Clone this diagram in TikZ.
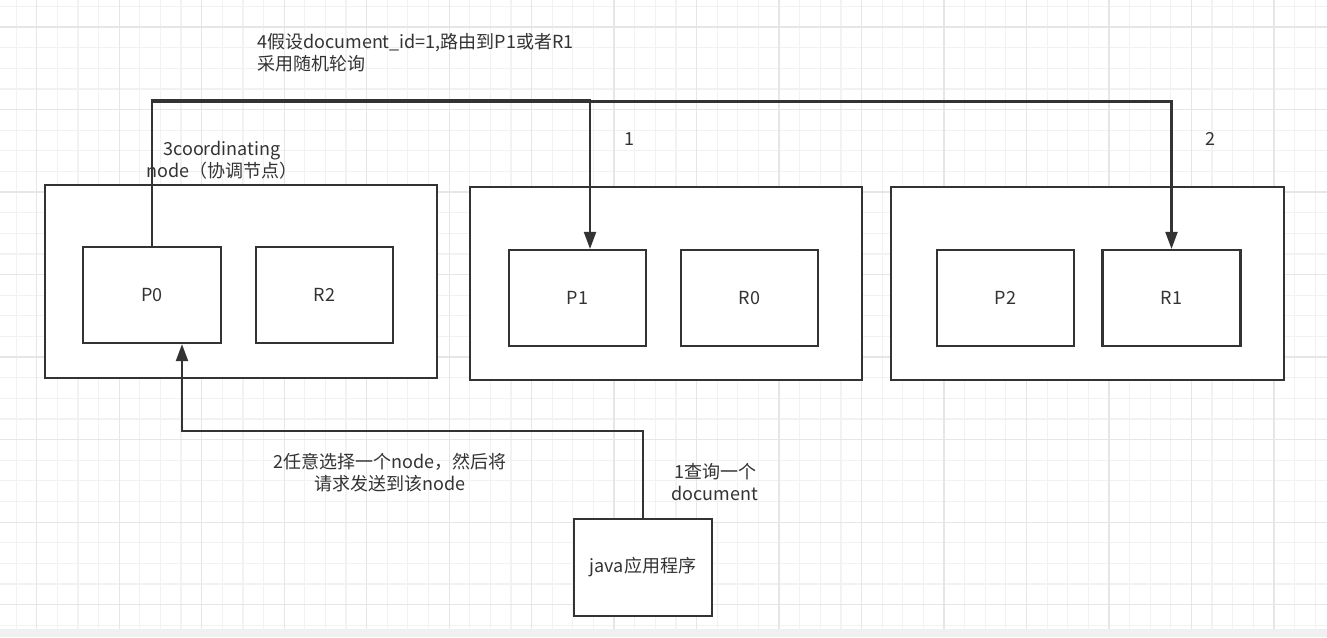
\documentclass[tikz,border=0pt]{standalone}
\usepackage{fontspec}
\setmainfont{Noto Sans CJK SC}
\usetikzlibrary{arrows.meta}
\definecolor{lc}{HTML}{333333}
\definecolor{gminor}{HTML}{F2F2F2}
\definecolor{gmajor}{HTML}{E6E6E6}
\definecolor{band}{HTML}{F0F0F0}
\begin{document}
\begin{tikzpicture}[x=1pt,y=-1pt,
  font=\fontsize{18}{22}\selectfont,
  every node/.style={text=lc},
  outer/.style={draw=lc, line width=2.2pt, fill=white, inner sep=0pt, minimum width=392pt, minimum height=193pt},
  shard/.style={draw=lc, line width=2.2pt, fill=white, inner sep=0pt, minimum width=138pt, minimum height=96pt},
  conn/.style={draw=lc, line width=2.2pt},
  arr/.style={conn, -{Triangle[length=17pt,width=12pt]}},
  lbl/.style={inner sep=0pt, align=center}]
\useasboundingbox (0,0) rectangle (1327,637);
\fill[white] (0,0) rectangle (1327,637);
% grid
\foreach \i [evaluate=\i as \x using 16.1+20.62*\i] in {0,...,64}
  \draw[gminor, line width=1.2pt] (\x,0) -- (\x,629);
\foreach \i [evaluate=\i as \y using 6.4+20.63*\i] in {0,...,30}
  \draw[gminor, line width=1.2pt] (0,\y) -- (1327,\y);
\foreach \i [evaluate=\i as \x using 36.72+82.48*\i] in {0,...,15}
  \draw[gmajor, line width=1.2pt] (\x,0) -- (\x,629);
\foreach \i [evaluate=\i as \y using 27+82.52*\i] in {0,...,7}
  \draw[gmajor, line width=1.2pt] (0,\y) -- (1327,\y);
\fill[band] (0,629) rectangle (1327,637);

% outer nodes
\node[outer] (A) at (241,281.5) {};
\node[outer] (B) at (666,283.5) {};
\node[outer, minimum width=393pt] (C) at (1087.5,283.5) {};

% shards
\node[shard] (P0) at (152,295) {P0};
\node[shard, minimum width=137pt] (R2) at (324.5,295) {R2};
\node[shard, minimum width=137pt] (P1) at (577.5,298) {P1};
\node[shard, minimum width=137pt] (R0) at (749.5,298) {R0};
\node[shard, minimum width=137pt] (P2) at (1005.5,298) {P2};
\node[shard] (R1) at (1171.5,298) {R1};

\node[shard, minimum height=97pt] (java) at (643,567.5) {java应用程序};

% labels
\node[lbl, align=left, anchor=north west] (l4) at (257,33) {4假设document\_id=1,路由到P1或者R1\\采用随机轮询};
\node[lbl] (l3) at (222,160.5) {3coordinating\\node（协调节点）};
\node[lbl] (l1) at (629,139) {1};
\node[lbl] (l2) at (1210,139) {2};
\node[lbl] (l2b) at (390,473) {2任意选择一个node，然后将\\请求发送到该node};
\node[lbl] (l1b) at (715,482.5) {1查询一个\\document};

% connectors
\coordinate (t1) at (590,100);
\coordinate (t2) at (1171.5,101.5);
\coordinate (b1) at (182,431);
\draw[arr] (P0.north) |- (t1) -- (t1 |- P1.north);
\draw[arr] (P0.north) |- (t2) -- (R1.north);
\draw[arr] (java.north) |- (b1) -- (b1 |- P0.south);
\end{tikzpicture}
\end{document}
